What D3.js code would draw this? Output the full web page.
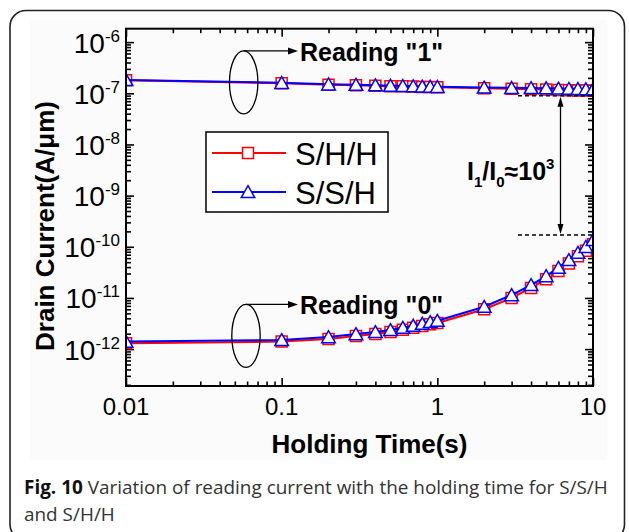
<!DOCTYPE html>
<html>
<head>
<meta charset="utf-8">
<script src="https://cdn.jsdelivr.net/npm/d3@7/dist/d3.min.js"></script>
<style>
  html, body { margin: 0; padding: 0; background: #ffffff; }
  svg { display: block; }
</style>
</head>
<body>
<svg id="chart" width="629" height="532"></svg>
<script>
// Holding times (s) at which the read current was sampled
const times = [0.01, 0.1, 0.2, 0.3, 0.4, 0.5, 0.6, 0.7, 0.8, 0.9, 1, 2, 3, 4, 5, 6, 7, 8, 9, 10];

// Reading "1" drain current (A/um)
const readOneSHH = [1.79e-7, 1.57e-7, 1.47e-7, 1.44e-7, 1.41e-7, 1.38e-7, 1.37e-7, 1.35e-7, 1.33e-7, 1.32e-7,
                    1.31e-7, 1.25e-7, 1.22e-7, 1.20e-7, 1.18e-7, 1.16e-7, 1.15e-7, 1.14e-7, 1.13e-7, 1.12e-7];
const readOneSSH = [1.82e-7, 1.60e-7, 1.50e-7, 1.47e-7, 1.44e-7, 1.41e-7, 1.40e-7, 1.38e-7, 1.36e-7, 1.35e-7,
                    1.34e-7, 1.30e-7, 1.28e-7, 1.27e-7, 1.26e-7, 1.24e-7, 1.23e-7, 1.22e-7, 1.21e-7, 1.20e-7];

// Reading "0" drain current (A/um)
const readZeroSHH = [1.30e-12, 1.40e-12, 1.58e-12, 1.80e-12, 1.97e-12, 2.15e-12, 2.38e-12, 2.60e-12, 2.84e-12, 3.06e-12,
                     3.24e-12, 6.0e-12, 1.0e-11, 1.57e-11, 2.33e-11, 3.35e-11, 4.7e-11, 6.5e-11, 8.4e-11, 1.12e-10];
const readZeroSSH = [1.40e-12, 1.51e-12, 1.72e-12, 1.97e-12, 2.16e-12, 2.36e-12, 2.62e-12, 2.87e-12, 3.14e-12, 3.39e-12,
                     3.59e-12, 6.74e-12, 1.14e-11, 1.79e-11, 2.68e-11, 3.90e-11, 5.52e-11, 7.66e-11, 1.00e-10, 1.36e-10];

// Axis ticks
const xTickValues = [0.01, 0.1, 1, 10];
const xTickLabels = ["0.01", "0.1", "1", "10"];
const yTickExponents = [-12, -11, -10, -9, -8, -7, -6];

// Legend entries
const seriesNames = ["S/H/H", "S/S/H"];

// On/off window marked by the dashed guides
const onLevel = 9.0e-8;
const offLevel = 1.7e-10;

const svg = d3.select("#chart");
const plot = { left: 126, right: 593, top: 28.7, bottom: 386 };

const x = d3.scaleLog().domain([0.01, 10]).range([plot.left, plot.right]);
const y = d3.scaleLog().domain([1.9e-13, 1.83e-6]).range([plot.bottom, plot.top]);

// Card outline and figure background
svg.append("rect").attr("x", 10).attr("y", 10.5).attr("width", 614.5).attr("height", 530)
  .attr("rx", 16).attr("ry", 16).attr("fill", "#ffffff").attr("stroke", "#222").attr("stroke-width", 1.6);
svg.append("rect").attr("x", 30).attr("y", 20).attr("width", 577).attr("height", 440).attr("fill", "#fbfbfb");

// ---- axes ----
function minorTicks(lo, hi) {
  const out = [];
  for (let e = Math.floor(Math.log10(lo)); e <= Math.ceil(Math.log10(hi)); e++) {
    for (let m = 2; m <= 9; m++) {
      const v = m * Math.pow(10, e);
      if (v > lo && v < hi) out.push(v);
    }
  }
  return out;
}
const yMajor = yTickExponents.map(e => Math.pow(10, e));
const yMinor = minorTicks(1.9e-13, 1.83e-6);
const xMinor = minorTicks(0.01, 10);

function styleAxis(g) {
  g.select(".domain").remove();
  g.selectAll(".tick line").attr("stroke", "#000").attr("stroke-width", 1.6);
}

// bottom
svg.append("g").attr("transform", `translate(0,${plot.bottom})`)
  .call(d3.axisBottom(x).tickValues(xTickValues).tickSize(-8).tickFormat(""))
  .call(styleAxis);
svg.append("g").attr("transform", `translate(0,${plot.bottom})`)
  .call(d3.axisBottom(x).tickValues(xMinor).tickSize(-4.5).tickFormat(""))
  .call(styleAxis);
// top
svg.append("g").attr("transform", `translate(0,${plot.top})`)
  .call(d3.axisTop(x).tickValues(xTickValues).tickSize(-8).tickFormat(""))
  .call(styleAxis);
svg.append("g").attr("transform", `translate(0,${plot.top})`)
  .call(d3.axisTop(x).tickValues(xMinor).tickSize(-4.5).tickFormat(""))
  .call(styleAxis);
// left
svg.append("g").attr("transform", `translate(${plot.left},0)`)
  .call(d3.axisLeft(y).tickValues(yMajor).tickSize(-8).tickFormat(""))
  .call(styleAxis);
svg.append("g").attr("transform", `translate(${plot.left},0)`)
  .call(d3.axisLeft(y).tickValues(yMinor).tickSize(-5).tickFormat(""))
  .call(styleAxis);
// right
svg.append("g").attr("transform", `translate(${plot.right},0)`)
  .call(d3.axisRight(y).tickValues(yMajor).tickSize(-8).tickFormat(""))
  .call(styleAxis);
svg.append("g").attr("transform", `translate(${plot.right},0)`)
  .call(d3.axisRight(y).tickValues(yMinor).tickSize(-5).tickFormat(""))
  .call(styleAxis);

// x tick labels
svg.append("g").selectAll("text").data(xTickValues).join("text")
  .attr("x", d => x(d)).attr("y", plot.bottom + 29)
  .attr("text-anchor", "middle")
  .attr("font-family", "Liberation Sans, Arial, sans-serif").attr("font-size", 24)
  .text((d, i) => xTickLabels[i]);

// y tick labels: 10 with superscript exponent
const yLab = svg.append("g").selectAll("text").data(yTickExponents).join("text")
  .attr("x", plot.left - 6).attr("y", d => y(Math.pow(10, d)) + 10.5)
  .attr("text-anchor", "end")
  .attr("font-family", "Liberation Sans, Arial, sans-serif").attr("font-size", 28);
yLab.append("tspan").text("10");
yLab.append("tspan").attr("dy", -11).attr("font-size", 17).text(d => String(d));

// axis titles
svg.append("text").attr("x", (plot.left + plot.right) / 2 + 10).attr("y", 453)
  .attr("text-anchor", "middle")
  .attr("font-family", "Liberation Sans, Arial, sans-serif").attr("font-size", 26).attr("font-weight", "bold")
  .text("Holding Time(s)");
svg.append("text").attr("transform", "translate(54,226) rotate(-90)")
  .attr("text-anchor", "middle")
  .attr("font-family", "Liberation Sans, Arial, sans-serif").attr("font-size", 26).attr("font-weight", "bold")
  .text("Drain Current(A/\u03bcm)");

// ---- data ----
svg.append("defs").append("clipPath").attr("id", "plot-clip")
  .append("rect").attr("x", plot.left).attr("y", plot.top)
  .attr("width", plot.right - plot.left).attr("height", plot.bottom - plot.top);

const dataLayer = svg.append("g").attr("clip-path", "url(#plot-clip)");
const line = d3.line().x(d => x(d[0])).y(d => y(d[1]));

const squarePath = "M-5.5,-5.5H5.5V5.5H-5.5Z";
const trianglePath = "M0,-6.3L6.8,5.6L-6.8,5.6Z";

const series = [
  { name: seriesNames[0], color: "#ff0000", marker: squarePath, curves: [readOneSHH, readZeroSHH] },
  { name: seriesNames[1], color: "#0000ff", marker: trianglePath, curves: [readOneSSH, readZeroSSH] }
];

// dashed guides for the on and off levels (under the markers)
const guides = svg.append("g");
[onLevel, offLevel].forEach(v => {
  guides.append("line").attr("x1", 518).attr("x2", plot.right).attr("y1", y(v)).attr("y2", y(v))
    .attr("stroke", "#000").attr("stroke-width", 1.5).attr("stroke-dasharray", "4,3");
});

series.forEach(s => {
  s.curves.forEach(vals => {
    const pts = times.map((t, i) => [t, vals[i]]);
    dataLayer.append("path").datum(pts)
      .attr("d", line).attr("fill", "none")
      .attr("stroke", s.color).attr("stroke-width", 2);
    dataLayer.append("g").selectAll("path").data(pts).join("path")
      .attr("transform", d => `translate(${x(d[0])},${y(d[1])})`)
      .attr("d", s.marker).attr("fill", "#ffffff")
      .attr("stroke", s.color).attr("stroke-width", 1.5);
  });
});

// plot frame
svg.append("rect").attr("x", plot.left).attr("y", plot.top)
  .attr("width", plot.right - plot.left).attr("height", plot.bottom - plot.top)
  .attr("fill", "none").attr("stroke", "#000").attr("stroke-width", 2);

// ---- legend ----
const leg = svg.append("g").attr("transform", "translate(206,132)");
leg.append("rect").attr("width", 182).attr("height", 80)
  .attr("fill", "#ffffff").attr("stroke", "#000").attr("stroke-width", 1.5);
series.forEach((s, i) => {
  const cy = 21 + i * 39;
  leg.append("line").attr("x1", 6).attr("x2", 80).attr("y1", cy).attr("y2", cy)
    .attr("stroke", s.color).attr("stroke-width", 2);
  leg.append("path").attr("transform", `translate(42,${cy})`).attr("d", s.marker)
    .attr("fill", "#ffffff").attr("stroke", s.color).attr("stroke-width", 1.5);
  leg.append("text").attr("x", 89).attr("y", cy + 12)
    .attr("font-family", "Liberation Sans, Arial, sans-serif").attr("font-size", 31)
    .text(s.name);
});

// ---- annotations ----
const ann = svg.append("g");
function arrowHead(g, tipX, tipY, dir) {
  let p;
  if (dir === "right") p = [[tipX, tipY], [tipX - 10, tipY - 3.5], [tipX - 10, tipY + 3.5]];
  else if (dir === "up") p = [[tipX, tipY], [tipX - 3, tipY + 10], [tipX + 3, tipY + 10]];
  else p = [[tipX, tipY], [tipX - 3, tipY - 10], [tipX + 3, tipY - 10]];
  g.append("path").attr("d", "M" + p.join("L") + "Z").attr("fill", "#000");
}

const readingLabels = [
  { t: 0.057, v: readOneSSH[1] * 1.02, text: "Reading \"1\"" },
  { t: 0.059, v: readZeroSSH[1] * 1.2, text: "Reading \"0\"" }
];
readingLabels.forEach(r => {
  const cx = x(r.t), cy = y(r.v);
  ann.append("ellipse").attr("cx", cx).attr("cy", cy).attr("rx", 14.2).attr("ry", 31.5)
    .attr("fill", "none").attr("stroke", "#000").attr("stroke-width", 1.3);
  const top = cy - 31.5;
  ann.append("line").attr("x1", cx).attr("x2", 292).attr("y1", top).attr("y2", top)
    .attr("stroke", "#000").attr("stroke-width", 1.3);
  arrowHead(ann, 298, top, "right");
  ann.append("text").attr("x", 300).attr("y", top + 10)
    .attr("font-family", "Liberation Sans, Arial, sans-serif").attr("font-size", 25).attr("font-weight", "bold")
    .text(r.text);
});

// double arrow spanning the on/off window
const arrowX = 560.5;
ann.append("line").attr("x1", arrowX).attr("x2", arrowX).attr("y1", y(onLevel) + 6).attr("y2", y(offLevel) - 6)
  .attr("stroke", "#000").attr("stroke-width", 1.3);
arrowHead(ann, arrowX, y(onLevel) + 1, "up");
arrowHead(ann, arrowX, y(offLevel) - 1, "down");

// I1/I0 ratio label
const ratio = ann.append("text").attr("x", 467).attr("y", 180)
  .attr("font-family", "Liberation Sans, Arial, sans-serif").attr("font-size", 25).attr("font-weight", "bold");
ratio.append("tspan").text("I");
ratio.append("tspan").attr("dy", 7).attr("font-size", 15).text("1");
ratio.append("tspan").attr("dy", -7).text("/I");
ratio.append("tspan").attr("dy", 7).attr("font-size", 15).text("0");
ratio.append("tspan").attr("dy", -7).text("\u224810");
ratio.append("tspan").attr("dy", -11).attr("font-size", 15).text("3");

// ---- caption ----
const cap1 = svg.append("text").attr("x", 24).attr("y", 494)
  .attr("font-family", "Open Sans, sans-serif").attr("font-size", 18).attr("fill", "#333");
cap1.append("tspan").attr("font-weight", "bold").attr("fill", "#111").text("Fig. 10");
cap1.append("tspan").text(" Variation of reading current with the holding time for S/S/H");
const fitWidth = 584;
const len = cap1.node().getComputedTextLength();
const capSize = 18 * fitWidth / len;
cap1.attr("font-size", capSize);
svg.append("text").attr("x", 24).attr("y", 521)
  .attr("font-family", "Open Sans, sans-serif").attr("font-size", capSize).attr("fill", "#333")
  .text("and S/H/H");
</script>
</body>
</html>
